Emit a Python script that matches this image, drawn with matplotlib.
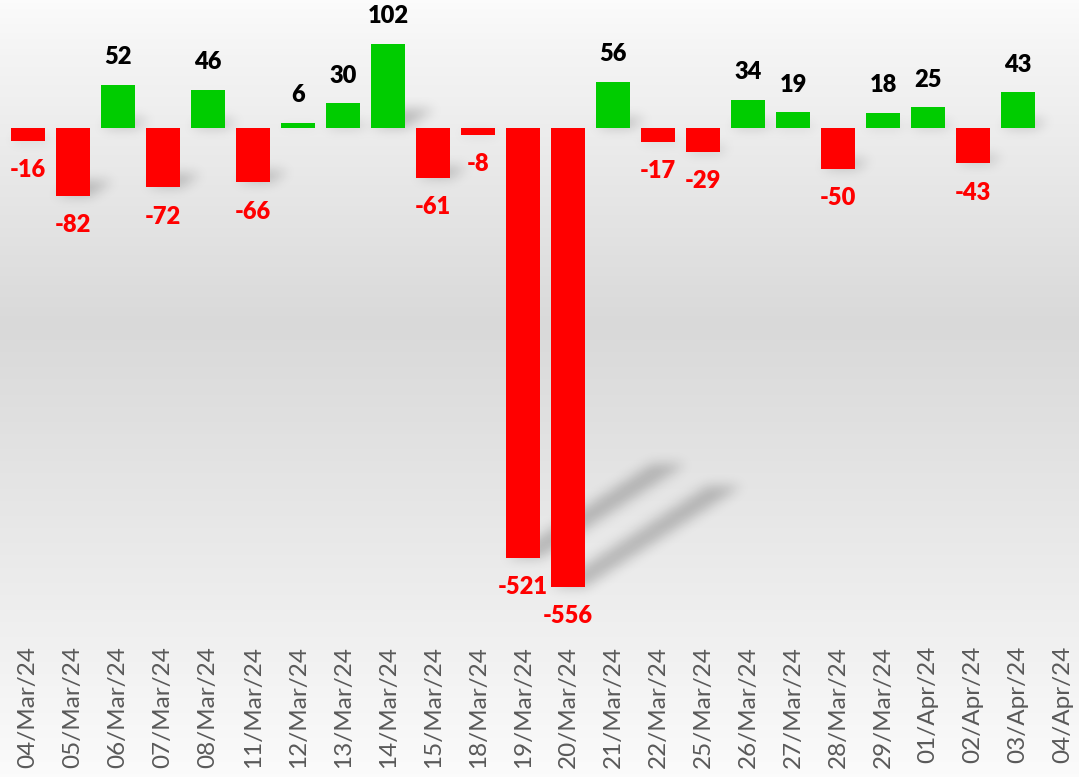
import numpy as np
import matplotlib.pyplot as plt
from matplotlib.colors import LinearSegmentedColormap
from matplotlib.path import Path

plt.rcParams['font.family'] = ['Lato', 'DejaVu Sans']

dates = ['04/Mar/24', '05/Mar/24', '06/Mar/24', '07/Mar/24', '08/Mar/24', '11/Mar/24',
         '12/Mar/24', '13/Mar/24', '14/Mar/24', '15/Mar/24', '18/Mar/24', '19/Mar/24',
         '20/Mar/24', '21/Mar/24', '22/Mar/24', '25/Mar/24', '26/Mar/24', '27/Mar/24',
         '28/Mar/24', '29/Mar/24', '01/Apr/24', '02/Apr/24', '03/Apr/24', '04/Apr/24']
values = [-16, -82, 52, -72, 46, -66, 6, 30, 102, -61, -8, -521,
          -556, 56, -17, -29, 34, 19, -50, 18, 25, -43, 43, np.nan]

W, H = 1079, 777
fig = plt.figure(figsize=(W / 100, H / 100), dpi=100)

# background gradient
bg = fig.add_axes([0, 0, 1, 1], zorder=-10)
bg.axis('off')
cmap = LinearSegmentedColormap.from_list('bg', [
    (0.0, '#fbfbfb'), (0.18, '#f0f0f0'), (0.58, '#d9d9d9'),
    (0.93, '#f4f4f4'), (1.0, '#fbfbfb')])
bg.imshow(np.linspace(1, 0, 256).reshape(-1, 1), aspect='auto', cmap=cmap,
          extent=[0, 1, 0, 1], vmin=0, vmax=1)

ax = fig.add_axes([0.0052, 1 - 635 / H, 1.0, 635 / H])
ax.patch.set_alpha(0)
x = np.arange(len(dates))
bw = 0.76
colors = ['#00cc00' if v > 0 else '#ff0000' for v in values]
ax.bar(x, values, width=bw, color=colors, zorder=3)

for xi, v in zip(x, values):
    if np.isnan(v):
        continue
    if v > 0:
        ax.annotate(str(int(v)), (xi, v), xytext=(0, 12), textcoords='offset points',
                    ha='center', va='bottom', fontsize=17, fontweight='heavy', color='black')
    else:
        ax.annotate(str(int(v)), (xi, v), xytext=(0, -13), textcoords='offset points',
                    ha='center', va='top', fontsize=17, fontweight='heavy', color='#ff0000')

ax.set_xlim(-0.5, 23.48)
ax.set_ylim(-614, 155)
ax.set_xticks(x)
ax.set_xticklabels(dates, rotation=90, fontsize=17.5, color='#595959')
ax.tick_params(axis='x', length=0, pad=8)
ax.set_yticks([])
for s in ax.spines.values():
    s.set_visible(False)

# soft perspective shadows behind the bars
mask = np.zeros((H, W))
yy, xx = np.mgrid[0:H, 0:W]
pts = np.column_stack([xx.ravel() + 0.5, (H - yy.ravel()) - 0.5])
for xi, v in zip(x, values):
    if np.isnan(v):
        continue
    (x0, ya), (x1, yb) = ax.transData.transform([(xi - bw / 2, 0), (xi + bw / 2, v)])
    lo, hi = min(ya, yb), max(ya, yb)
    h = hi - lo
    dx, dy = 0.34 * h, 0.22 * h
    poly = Path([(x0, lo), (x1, lo), (x1 + dx, lo + dy), (x0 + dx, lo + dy)])
    inside = poly.contains_points(pts).reshape(H, W)
    mask[inside] = 1.0

sig = 6.0
r = 18
k = np.exp(-0.5 * (np.arange(-r, r + 1) / sig) ** 2)
k /= k.sum()
pad = np.pad(mask, r)
tmp = sum(w * pad[:, r + i: r + i + W] for i, w in zip(range(-r, r + 1), k))
blur = sum(w * tmp[r + i: r + i + H, :] for i, w in zip(range(-r, r + 1), k))
shadow = np.zeros((H, W, 4))
shadow[..., 3] = 0.22 * blur
bg.imshow(shadow, aspect='auto', extent=[0, 1, 0, 1], zorder=2)
bg.set_xlim(0, 1)
bg.set_ylim(0, 1)

fig.savefig('out.png', dpi=100)
